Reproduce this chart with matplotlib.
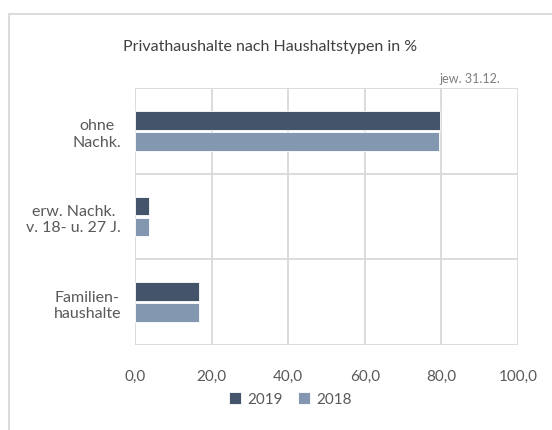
import matplotlib
matplotlib.use("Agg")
import matplotlib.pyplot as plt
from matplotlib.patches import Rectangle
import numpy as np

categories = ["Familien-\nhaushalte", "erw. Nachk.\nv. 18- u. 27 J.", "ohne\nNachk."]
values_2019 = [16.7, 3.7, 79.6]
values_2018 = [16.8, 3.7, 79.5]
series_labels = ["2019", "2018"]
xticks = [0, 20, 40, 60, 80, 100]
xtick_labels = ["0,0", "20,0", "40,0", "60,0", "80,0", "100,0"]

plt.rcParams['font.family'] = ['Lato', 'DejaVu Sans']
W, H = 552, 431
fig = plt.figure(figsize=(W / 100, H / 100), dpi=100)
fig.patch.set_facecolor("white")

grid_c = "#D9D9D9"
text_c = "#595959"
c2019 = "#44546A"
c2018 = "#8497B0"

# outer chart frame
fig.patches.append(Rectangle((9 / W, -0.2), 2.0, 1 - 15 / H + 0.2, transform=fig.transFigure,
                             fill=False, edgecolor=grid_c, linewidth=1.3, zorder=0))

ax = fig.add_axes([135 / W, 1 - 346 / H, (518 - 135) / W, (346 - 89) / H])
y = np.arange(len(categories))
h = 0.22
gap = 0.025
ax.barh(y + (h + gap) / 2, values_2019, height=h, color=c2019, label=series_labels[0],
        edgecolor="white", linewidth=0.6, zorder=3)
ax.barh(y - (h + gap) / 2, values_2018, height=h, color=c2018, label=series_labels[1],
        edgecolor="white", linewidth=0.6, zorder=3)

ax.set_xlim(0, 100)
ax.set_ylim(-0.5, len(categories) - 0.5)
ax.set_xticks(xticks)
ax.set_xticklabels(xtick_labels)
ax.set_yticks(y)
ax.set_yticklabels(categories, multialignment="center")
for x in xticks:
    ax.axvline(x, color=grid_c, linewidth=1.3, zorder=1)
for b in np.arange(-0.5, len(categories), 1.0):
    ax.axhline(b, color=grid_c, linewidth=1.3, zorder=1)
for s in ax.spines.values():
    s.set_visible(False)
ax.tick_params(axis="both", length=0, labelcolor=text_c)
ax.tick_params(axis="x", pad=17, labelsize=11)
ax.tick_params(axis="y", pad=10, labelsize=11.5)

fig.text(270 / W, 1 - 47 / H, "Privathaushalte nach Haushaltstypen in %", ha="center", va="center",
         fontsize=11.5, color="#404040")
fig.text(500 / W, 1 - 79 / H, "jew. 31.12.", ha="right", va="center", fontsize=9, color="#7F7F7F")

leg = fig.legend(loc="center", bbox_to_anchor=(290 / W, 1 - 400 / H), ncol=2, frameon=False,
                 fontsize=11, handlelength=0.8, handleheight=0.8, handletextpad=0.4,
                 columnspacing=1.0)
for t in leg.get_texts():
    t.set_color(text_c)

fig.savefig("out.png", dpi=100)
